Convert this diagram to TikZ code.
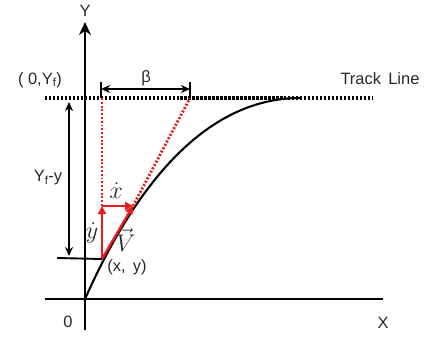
\documentclass[tikz,border=0pt]{standalone}
\usepackage{graphicx}
\usepackage{fontspec}
\setmainfont{Liberation Sans}
\usetikzlibrary{arrows.meta}
\definecolor{myred}{RGB}{232,28,28}
\definecolor{txt}{RGB}{40,40,40}
\newcommand{\bigmath}[1]{\scalebox{1.4}{$#1$}}
\tikzset{
  axis/.style={line width=3pt, black},
  dotline/.style={line width=3.2pt, dash pattern=on 2.4pt off 1.6pt},
  reddot/.style={myred, line width=2.8pt, dash pattern=on 2pt off 1.8pt},
  redarrow/.style={myred, line width=2.4pt, -{Triangle[length=8bp,width=8bp]}},
  lbl/.style={font=\fontsize{16.5}{16.5}\selectfont, text=txt, inner sep=0pt},
  dim/.style={line width=1.9pt, {Stealth[length=9bp,width=8bp]}-{Stealth[length=9bp,width=8bp]}},
}
\begin{document}
\begin{tikzpicture}[x=1bp,y=-1bp]
\useasboundingbox (0,0) rectangle (427,343);
% coordinates
\coordinate (O) at (85,299);
\coordinate (ybot) at (85,330);
\coordinate (ytop) at (85,22);
\coordinate (xl) at (45,299);
\coordinate (xr) at (383,299);
\coordinate (tl) at (45,98);
\coordinate (tr) at (372,98);
\coordinate (T) at (300,98);
\coordinate (P) at (102,259);
\coordinate (Q) at (133,206);
\coordinate (R) at (102,206);
\coordinate (A) at (102,98);
\coordinate (B) at (190,98);
\coordinate (ba1) at (101,82);
\coordinate (ba2) at (101,98);
\coordinate (bb1) at (190,82);
\coordinate (bb2) at (190,98);
\coordinate (bl) at (101,89);
\coordinate (br) at (190,89);
\coordinate (dt) at (69,102);
\coordinate (db) at (69,256);
\coordinate (hl) at (57,258);
% axes
\draw[axis] (xl) -- (xr);
\draw[axis, -{Stealth[length=13bp,width=12bp]}] (ybot) -- (ytop);
% track line
\draw[dotline] (tl) -- (tr);
% curve
\draw[line width=2.1pt] (O) .. controls (121.6,216.8) and (190,98) .. (T);
% red dotted
\draw[reddot] (A) -- (R);
\draw[reddot] (Q) -- (B);
% red arrows
\draw[redarrow] (P) -- (R);
\draw[redarrow] (R) -- (Q);
\draw[redarrow] (P) -- (Q);
% beta bracket
\draw[line width=2.6pt] (ba1) -- (ba2);
\draw[line width=2.6pt] (bb1) -- (bb2);
\draw[dim] (bl) -- (br);
% Yf-y dimension
\draw[dim] (db) -- (dt);
\draw[line width=1.9pt] (hl) -- (P);
% labels
\node[lbl] (ylab) at (85,11) {Y};
\node[lbl] (xlab) at (383,323) {X};
\node[lbl] (olab) at (68,322) {0};
\node[lbl] (yf) at (40,80) {( 0,Y\textsubscript{f})};
\node[lbl] (beta) at (146,78) {β};
\node[lbl] (track) at (380,79) {Track\, Line};
\node[lbl] (yfy) at (48,178) {Y\textsubscript{f}-y};
\node[lbl] (xd) at (116,191) {\bigmath{\dot{x}}};
\node[lbl] (yd) at (92,233) {\bigmath{\dot{y}}};
\node[lbl] (vv) at (126,240) {\bigmath{\vec{V}}};
\node[lbl] (xy) at (127,267) {(x,\, y)};
\end{tikzpicture}
\end{document}
